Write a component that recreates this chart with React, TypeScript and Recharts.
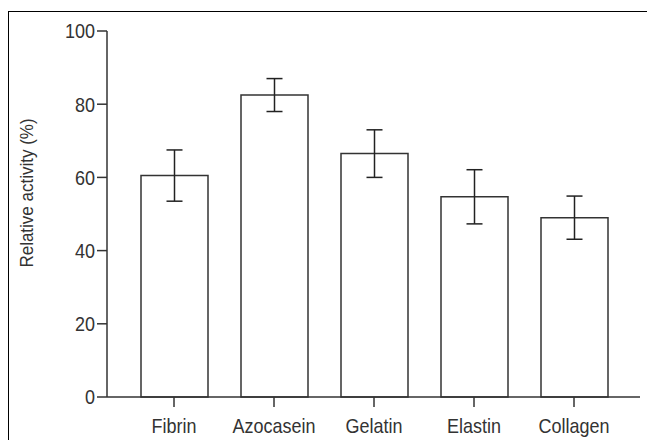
import React from 'react';
import { BarChart, Bar, XAxis, YAxis, ErrorBar, Label } from 'recharts';

// Relative proteolytic activity on different substrates (mean ± SD)
const substrates = ['Fibrin', 'Azocasein', 'Gelatin', 'Elastin', 'Collagen'];
const activity = [60.5, 82.5, 66.5, 54.7, 49.0];
const sd = [7.0, 4.5, 6.5, 7.4, 5.9];
const yTicks = [0, 20, 40, 60, 80, 100];

const rows = substrates.map((name, i) => ({ name, value: activity[i], err: sd[i] }));

const FONT = '"Liberation Sans", Arial, sans-serif';
const INK = '#333';
const STRETCH = 1.15; // tall, slightly condensed lettering

const XTick = (props: any) => {
  const { x, y, payload } = props;
  return (
    <text
      transform={`translate(${x} ${y + 11}) scale(1 ${STRETCH})`}
      textAnchor="middle"
      dominantBaseline="hanging"
      fontFamily={FONT}
      fontSize={18}
      fill={INK}
    >
      {payload.value}
    </text>
  );
};

const YTick = (props: any) => {
  const { x, y, payload } = props;
  return (
    <text
      transform={`translate(${x} ${y}) scale(1 ${STRETCH})`}
      textAnchor="end"
      dominantBaseline="central"
      fontFamily={FONT}
      fontSize={18}
      fill={INK}
    >
      {payload.value}
    </text>
  );
};

const YTitle = () => (
  <text
    transform="translate(27 193) rotate(-90) scale(1 1.1)"
    textAnchor="middle"
    dominantBaseline="central"
    fontFamily={FONT}
    fontSize={17}
    fill={INK}
  >
    Relative activity (%)
  </text>
);

export default function App() {
  return (
    <div style={{ position: 'absolute', left: 0, top: 0, width: 647, height: 440, background: '#fff', overflow: 'hidden' }}>
      <div
        style={{
          position: 'absolute',
          left: 8,
          top: 11,
          width: 700,
          height: 500,
          borderTop: '1.5px solid #000',
          borderLeft: '1.5px solid #000',
        }}
      />
      <BarChart
        width={647}
        height={440}
        data={rows}
        margin={{ top: 31, right: 7, bottom: 0, left: 0 }}
        style={{ position: 'absolute', left: 0, top: 0 }}
      >
        <XAxis
          dataKey="name"
          height={43}
          padding={{ left: 17, right: 16 }}
          tickSize={10}
          tickMargin={0}
          axisLine={{ stroke: INK, strokeWidth: 1.5 }}
          tickLine={{ stroke: INK, strokeWidth: 1.5 }}
          tick={<XTick />}
        />
        <YAxis
          width={107}
          domain={[0, 100]}
          ticks={yTicks}
          interval={0}
          tickSize={10}
          tickMargin={2}
          axisLine={{ stroke: INK, strokeWidth: 1.5 }}
          tickLine={{ stroke: INK, strokeWidth: 1.5 }}
          tick={<YTick />}
        >
          <Label content={<YTitle />} />
        </YAxis>
        <Bar dataKey="value" barSize={67} fill="#fff" stroke={INK} strokeWidth={1.5} isAnimationActive={false}>
          <ErrorBar dataKey="err" width={8} stroke="#222" strokeWidth={1.5} direction="y" isAnimationActive={false} />
        </Bar>
      </BarChart>
    </div>
  );
}
